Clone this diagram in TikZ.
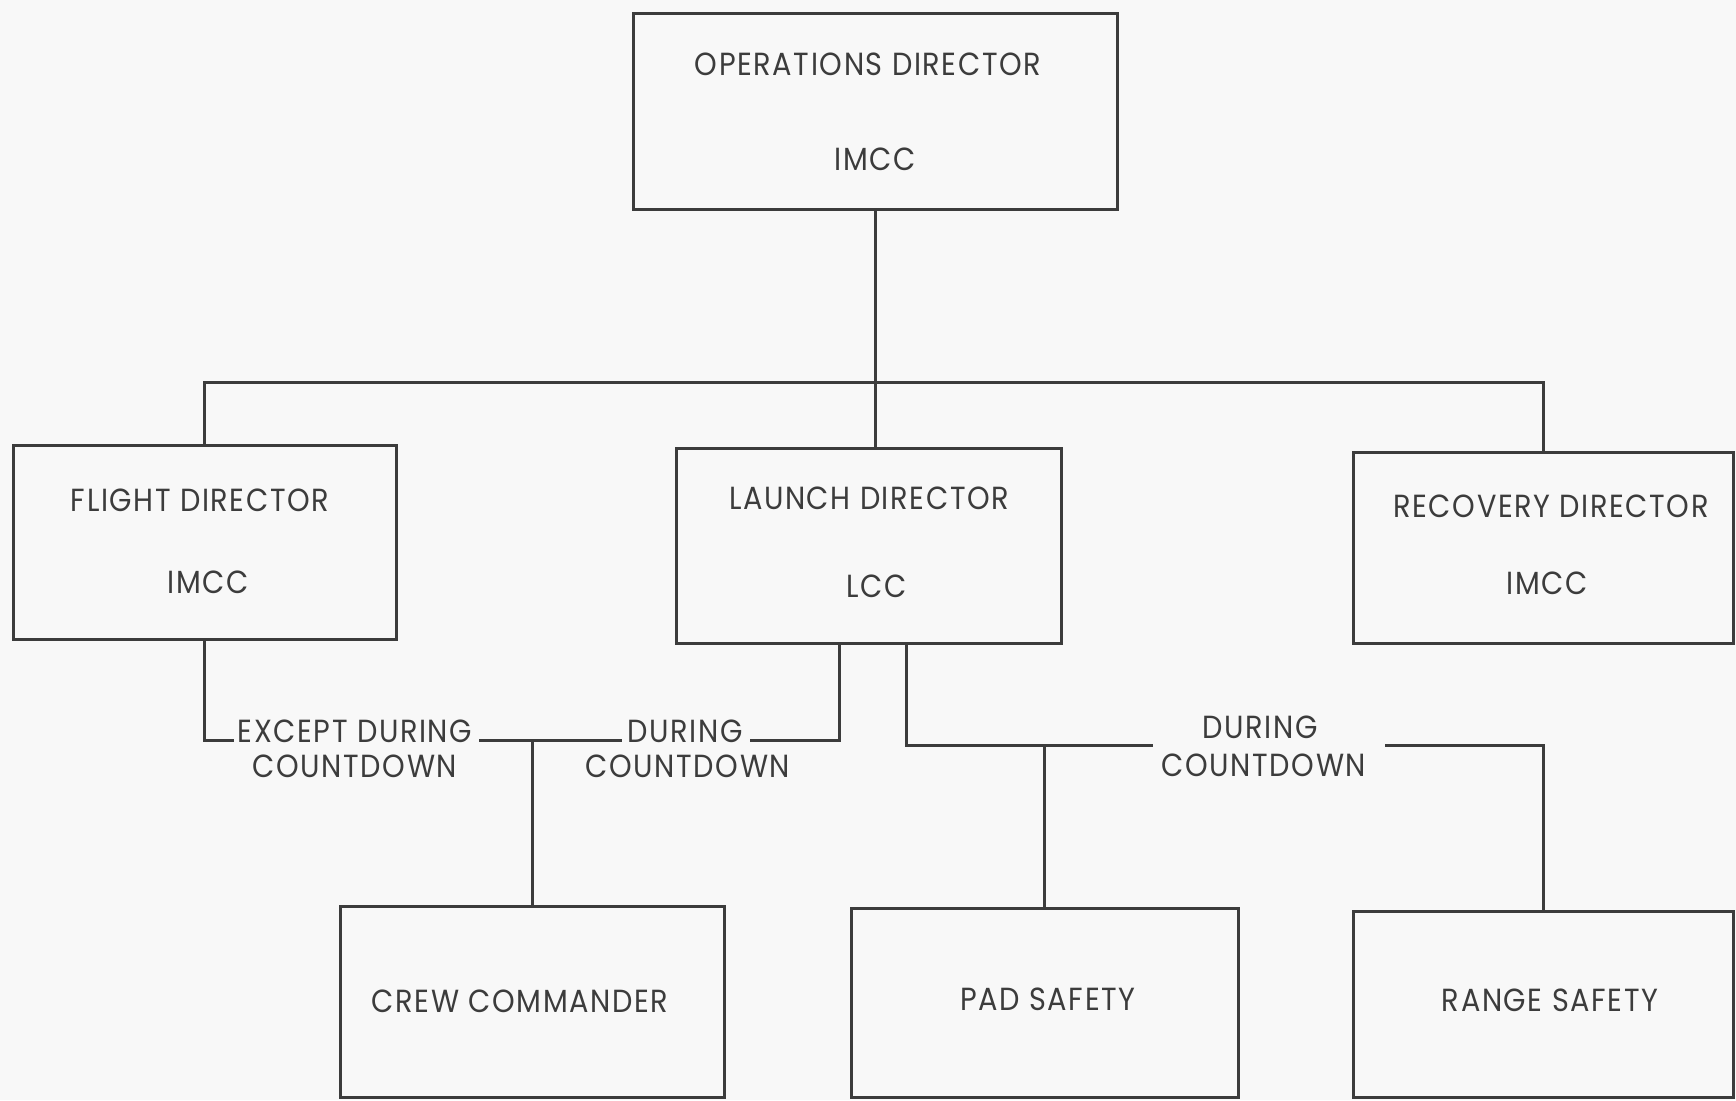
\documentclass[tikz,border=0pt]{standalone}
\usepackage{fontspec}
\setmainfont{Poppins}[FakeStretch=0.9,LetterSpace=5]
\definecolor{ink}{HTML}{3C3C3C}
\definecolor{paper}{HTML}{F8F8F8}
\tikzset{
  box/.style={draw=ink, line width=1.5pt, inner sep=0pt, rectangle},
  lbl/.style={text=ink, inner sep=0pt, font=\fontsize{16}{18}\selectfont},
  conn/.style={draw=ink, line width=1.5pt, line cap=rect},
}
\begin{document}
\begin{tikzpicture}[x=0.5pt,y=-0.5pt]
\fill[paper] (0,0) rectangle (1736,1100);
\useasboundingbox (0,0) rectangle (1736,1100);

% boxes
\node[box, minimum width=242pt, minimum height=98pt]   (ops)      at (875,111)    {};
\node[box, minimum width=191.5pt, minimum height=97pt] (flight)   at (204.5,542)  {};
\node[box, minimum width=192.5pt, minimum height=97.5pt] (launch) at (868.5,545.5){};
\node[box, minimum width=190pt, minimum height=95.5pt] (recovery) at (1543,547.5) {};
\node[box, minimum width=192pt, minimum height=95.5pt] (crew)     at (532,1001.5) {};
\node[box, minimum width=193.5pt, minimum height=94.5pt] (pad)    at (1044.5,1002.5){};
\node[box, minimum width=190pt, minimum height=93pt]   (range)    at (1543,1004)  {};

% box texts
\node[lbl] (opsT)  at (868,64)   {OPERATIONS DIRECTOR};
\node[lbl] (opsL)  at (875,159)  {IMCC};
\node[lbl] (fliT)  at (200,500)  {FLIGHT DIRECTOR};
\node[lbl] (fliL)  at (208,582)  {IMCC};
\node[lbl] (lauT)  at (869,498)  {LAUNCH DIRECTOR};
\node[lbl] (lauL)  at (877,586)  {LCC};
\node[lbl] (recT)  at (1551,506) {RECOVERY DIRECTOR};
\node[lbl] (recL)  at (1547,583) {IMCC};
\node[lbl] (crewT) at (520,1001) {CREW COMMANDER};
\node[lbl] (padT)  at (1048,999) {PAD SAFETY};
\node[lbl] (rngT)  at (1550,1000){RANGE SAFETY};

% connector labels
\node[lbl] (exA) at (355,731) {EXCEPT DURING};
\node[lbl] (exB) at (355,766) {COUNTDOWN};
\node[lbl] (duA) at (685,731) {DURING};
\node[lbl] (duB) at (688,766) {COUNTDOWN};
\node[lbl] (dpA) at (1260,727) {DURING};
\node[lbl] (dpB) at (1264,765) {COUNTDOWN};

% top bus
\coordinate (busL) at (204.5,382);
\coordinate (busR) at (1543,382);
\draw[conn] (flight.north) -- (busL) -- (busR) -- (recovery.north);
\draw[conn] (ops.south) -- (ops.south |- launch.north);

% flight / launch -> crew
\coordinate (jc) at (532,740);
\coordinate (s1) at (232,740);
\coordinate (s2) at (480,740);
\coordinate (s3) at (620,740);
\coordinate (s4) at (751,740);
\coordinate (lA) at (839,740);
\draw[conn] (flight.south) -- (flight.south |- jc) -- (s1);
\draw[conn] (s2) -- (s3);
\draw[conn] (s4) -- (lA) -- (lA |- launch.south);
\draw[conn] (jc) -- (crew.north);

% launch -> pad / range
\coordinate (lB) at (906,745);
\coordinate (t1) at (1151,745);
\coordinate (t2) at (1386,745);
\draw[conn] (lB |- launch.south) -- (lB) -- (t1);
\draw[conn] (pad.north |- lB) -- (pad.north);
\draw[conn] (t2) -- (range.north |- t2) -- (range.north);
\end{tikzpicture}
\end{document}
